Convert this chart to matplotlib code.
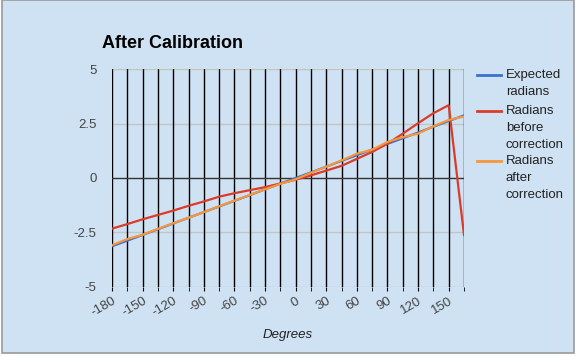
import matplotlib
matplotlib.use("Agg")
import matplotlib.pyplot as plt
import matplotlib.lines as mlines
import matplotlib.patches as mpatches

plt.rcParams["font.family"] = ["Liberation Sans", "DejaVu Sans"]

# degrees every 15, labels every 30
Degrees = [-180, -165, -150, -135, -120, -105, -90, -75, -60, -45, -30, -15,
           0, 15, 30, 45, 60, 75, 90, 105, 120, 135, 150, 165]
TickLabels = ["-180", "-150", "-120", "-90", "-60", "-30", "0", "30", "60", "90", "120", "150"]

Expected = [-3.14, -2.88, -2.62, -2.36, -2.09, -1.83, -1.57, -1.31, -1.05, -0.79, -0.52, -0.26,
            0.0, 0.26, 0.52, 0.79, 1.05, 1.31, 1.57, 1.83, 2.09, 2.36, 2.62, 2.88]
Before = [-2.33, -2.12, -1.90, -1.70, -1.50, -1.28, -1.08, -0.86, -0.70, -0.56, -0.42, -0.25,
          -0.08, 0.12, 0.34, 0.56, 0.88, 1.20, 1.58, 2.04, 2.52, 2.98, 3.35, -2.62]
After = [-3.09, -2.81, -2.61, -2.34, -2.08, -1.83, -1.57, -1.30, -1.04, -0.78, -0.52, -0.27,
         -0.06, 0.24, 0.52, 0.81, 1.12, 1.30, 1.66, 1.88, 2.04, 2.38, 2.67, 2.83]

SeriesNames = ["Expected\nradians", "Radians\nbefore\ncorrection", "Radians\nafter\ncorrection"]
SeriesColors = ["#3c6fcf", "#dc3b2a", "#f7963a"]

BgColor = "#cfe2f3"

fig = plt.figure(figsize=(5.76, 3.56), dpi=100)
fig.patch.set_facecolor("white")
fig.add_artist(mpatches.Rectangle((2/576, 3/356), 572/576, 353/356, transform=fig.transFigure,
                                  facecolor=BgColor, edgecolor="#9a9a9a", linewidth=1.2, zorder=0))

ax = fig.add_axes([112/576, 69.3/356, 352/576, 217.4/356])
ax.set_facecolor(BgColor)

pos = list(range(len(Degrees)))

# gridlines
for y in [-5, -2.5, 2.5, 5]:
    ax.axhline(y, color="#c4c4c4", linewidth=1, zorder=1)
for p in pos:
    ax.axvline(p, color="black", linewidth=1.0, zorder=1)
ax.axhline(0, color="#333333", linewidth=1.0, zorder=2)

ax.plot(pos, Expected, color=SeriesColors[0], linewidth=1.6, zorder=3)
ax.plot(pos, Before, color=SeriesColors[1], linewidth=1.6, zorder=4)
ax.plot(pos, After, color=SeriesColors[2], linewidth=1.6, zorder=5)

ax.set_xlim(0, len(Degrees) - 1)
ax.set_ylim(-5, 5)

for s in ax.spines.values():
    s.set_visible(False)

ax.set_xticks(pos, minor=True)
ax.set_xticks(pos[::2])
ax.set_xticklabels(TickLabels, rotation=30, ha="right", rotation_mode="anchor",
                   fontsize=9.5, color="#444444")
ax.tick_params(axis="x", which="both", length=3, color="black", pad=3)
ax.set_yticks([-5, -2.5, 0, 2.5, 5])
ax.set_yticklabels(["-5", "-2.5", "0", "2.5", "5"], fontsize=9.5, color="#444444")
ax.tick_params(axis="y", length=0, pad=11)

fig.text(288/576, 1 - 335/356, "Degrees", ha="center", va="center", fontsize=9.5,
         style="italic", color="#222222")
fig.text(102/576, 1 - 43/356, "After Calibration", ha="left", va="center", fontsize=13,
         fontweight="bold", color="black")

# legend drawn by hand so the line sits next to the first text line
LegendY = [75, 111, 161]
for q in range(3):
    yy = 1 - LegendY[q]/356
    fig.add_artist(mlines.Line2D([477/576, 501/576], [yy, yy], color=SeriesColors[q],
                                 linewidth=2, transform=fig.transFigure))
    fig.text(506/576, yy + 6/356, SeriesNames[q], ha="left", va="top", fontsize=9.5,
             color="#222222", linespacing=1.55)

plt.savefig("out.png", dpi=100, facecolor=fig.get_facecolor())
